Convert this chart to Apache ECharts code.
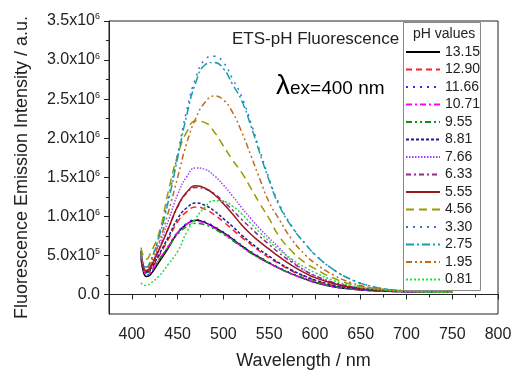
<!DOCTYPE html>
<html>
<head>
<meta charset="utf-8">
<script src="https://cdn.jsdelivr.net/npm/echarts@6/dist/echarts.min.js"></script>
<style>html,body{margin:0;padding:0;background:#fff}#c{width:513px;height:370px}</style>
</head>
<body>
<div id="c"></div>
<script>
// Wavelength (nm)
var wavelengths = [410, 413, 416, 420, 430, 440, 450, 460, 470, 480, 490, 500, 510, 520, 530, 540, 550, 560, 575, 590, 600, 620, 640, 660, 680, 700, 725, 750];
// Intensities in units of 1e5 a.u.
var ph1315 = [4.6, 2.7, 2.3, 2.5, 4.2, 6.0, 7.9, 9.0, 9.5, 9.2, 8.6, 7.9, 7.1, 6.2, 5.4, 4.7, 4.0, 3.4, 2.6, 1.95, 1.55, 1.0, 0.7, 0.5, 0.4, 0.35, 0.3, 0.28];
var ph1290 = [5.3, 3.2, 2.8, 3.1, 5.0, 7.1, 9.3, 10.6, 11.2, 10.9, 10.2, 9.3, 8.3, 7.3, 6.4, 5.5, 4.7, 4.0, 3.0, 2.25, 1.8, 1.15, 0.8, 0.56, 0.45, 0.38, 0.32, 0.29];
var ph1166 = [4.9, 2.9, 2.5, 2.7, 4.4, 6.2, 8.0, 9.1, 9.6, 9.3, 8.7, 8.0, 7.2, 6.3, 5.5, 4.8, 4.1, 3.5, 2.7, 2.0, 1.6, 1.05, 0.72, 0.52, 0.42, 0.36, 0.31, 0.28];
var ph1071 = [5.0, 3.0, 2.6, 2.8, 4.5, 6.2, 7.9, 9.0, 9.4, 9.1, 8.5, 7.8, 7.0, 6.1, 5.3, 4.6, 4.0, 3.4, 2.6, 1.95, 1.55, 1.0, 0.7, 0.5, 0.4, 0.35, 0.3, 0.28];
var ph955 = [5.2, 3.2, 2.8, 3.0, 4.5, 6.1, 7.7, 8.7, 9.1, 8.9, 8.4, 7.7, 6.9, 6.1, 5.3, 4.6, 4.0, 3.4, 2.6, 2.0, 1.6, 1.05, 0.72, 0.52, 0.42, 0.36, 0.31, 0.28];
var ph881 = [5.4, 3.3, 2.9, 3.2, 5.2, 7.4, 9.7, 11.1, 11.7, 11.4, 10.7, 9.7, 8.7, 7.6, 6.6, 5.7, 4.9, 4.1, 3.1, 2.3, 1.85, 1.2, 0.82, 0.58, 0.46, 0.38, 0.32, 0.29];
var ph766 = [5.6, 3.5, 3.1, 3.6, 6.4, 9.5, 12.8, 15.1, 16.2, 16.0, 15.2, 14.0, 12.6, 11.1, 9.7, 8.4, 7.2, 6.1, 4.3, 3.0, 2.4, 1.5, 1.0, 0.7, 0.52, 0.42, 0.34, 0.3];
var ph633 = [5.6, 3.5, 3.1, 3.5, 5.9, 8.5, 11.2, 13.0, 13.7, 13.5, 12.9, 11.9, 10.8, 9.6, 8.5, 7.4, 6.4, 5.4, 4.1, 3.0, 2.4, 1.55, 1.0, 0.7, 0.52, 0.42, 0.34, 0.3];
var ph555 = [5.5, 3.4, 3.0, 3.4, 5.8, 8.5, 11.3, 13.1, 13.9, 13.6, 12.8, 11.6, 10.3, 8.9, 7.7, 6.7, 5.8, 4.9, 3.7, 2.7, 2.15, 1.4, 0.92, 0.63, 0.5, 0.4, 0.33, 0.29];
var ph456 = [6.0, 4.8, 4.5, 5.2, 8.0, 13.3, 17.8, 20.8, 22.2, 22.0, 20.8, 19.0, 17.2, 15.6, 13.6, 11.6, 9.7, 7.6, 5.5, 4.0, 3.3, 2.1, 1.3, 0.85, 0.6, 0.45, 0.36, 0.3];
var ph330 = [5.4, 3.7, 3.4, 4.1, 7.6, 12.4, 18.0, 23.6, 27.8, 30.1, 30.5, 29.7, 27.6, 25.3, 22.0, 18.3, 14.8, 11.8, 8.7, 6.4, 5.1, 3.2, 1.9, 1.1, 0.65, 0.45, 0.34, 0.3];
var ph275 = [5.5, 3.8, 3.5, 4.2, 7.5, 12.0, 17.5, 23.0, 27.2, 29.4, 29.7, 28.9, 26.9, 24.8, 21.6, 18.0, 14.6, 11.6, 8.6, 6.4, 5.1, 3.2, 1.9, 1.1, 0.65, 0.45, 0.33, 0.3];
var ph195 = [5.3, 3.6, 3.3, 3.9, 6.8, 10.6, 15.0, 19.4, 22.6, 24.6, 25.4, 24.9, 23.3, 20.8, 17.8, 14.7, 11.8, 9.8, 7.0, 5.0, 4.0, 2.5, 1.5, 0.9, 0.58, 0.42, 0.32, 0.29];
var ph081 = [1.5, 1.2, 1.15, 1.4, 2.4, 3.9, 5.5, 8.0, 9.8, 11.2, 12.0, 11.9, 11.3, 10.3, 9.1, 7.9, 6.8, 5.8, 4.5, 3.4, 2.8, 1.8, 1.15, 0.75, 0.52, 0.4, 0.32, 0.28];

var seriesNames = ['13.15', '12.90', '11.66', '10.71', '9.55', '8.81', '7.66', '6.33', '5.55', '4.56', '3.30', '2.75', '1.95', '0.81'];
var seriesData = [ph1315, ph1290, ph1166, ph1071, ph955, ph881, ph766, ph633, ph555, ph456, ph330, ph275, ph195, ph081];

var xTickValues = [400, 450, 500, 550, 600, 650, 700, 750, 800];
var xMinorTicks = [425, 475, 525, 575, 625, 675, 725, 775];
var yTickValues = [0, 5, 10, 15, 20, 25, 30, 35];
var yTickLabels = ['0.0', '5.0x10{s|5}', '1.0x10{s|6}', '1.5x10{s|6}', '2.0x10{s|6}', '2.5x10{s|6}', '3.0x10{s|6}', '3.5x10{s|6}'];
var yMinorTicks = [2.5, 7.5, 12.5, 17.5, 22.5, 27.5, 32.5];

var styles = [
  {color: '#000000', type: 'solid'},
  {color: '#ff2020', type: [6, 4]},
  {color: '#2a2aff', type: [2, 5]},
  {color: '#ff00ff', type: [6, 3, 2, 3]},
  {color: '#129012', type: [6, 3, 2, 3, 2, 3]},
  {color: '#1c1c90', type: [3, 2]},
  {color: '#a040ff', type: [1.5, 1.5]},
  {color: '#902890', type: [5, 3, 2, 3]},
  {color: '#9b1818', type: 'solid'},
  {color: '#9a9a00', type: [8, 5]},
  {color: '#3a70d0', type: [2, 5]},
  {color: '#12a0a8', type: [8, 3, 2, 3]},
  {color: '#c06a20', type: [6, 3, 2, 3, 2, 3]},
  {color: '#22dd44', type: [2, 2]}
];

var FONT = 'Liberation Sans';
var series = seriesNames.map(function (n, i) {
  return {
    name: n, type: 'line', smooth: true, symbol: 'none', showSymbol: false,
    data: wavelengths.map(function (w, j) { return [w, seriesData[i][j]]; }),
    lineStyle: {color: styles[i].color, width: 1.5, type: styles[i].type},
    itemStyle: {color: styles[i].color}
  };
});

var chart = echarts.init(document.getElementById('c'));
chart.setOption({
  animation: false,
  backgroundColor: '#fff',
  grid: {left: 109, right: 15, top: 21, bottom: 56, show: true, borderColor: '#222', borderWidth: 1, backgroundColor: 'transparent', outerBoundsMode: 'none', containLabel: false},
  xAxis: [{
    type: 'value', min: 375, max: 800, interval: 25,
    name: 'Wavelength / nm', nameLocation: 'middle', nameGap: 38,
    nameTextStyle: {fontFamily: FONT, fontSize: 18, color: '#222'},
    axisLine: {lineStyle: {color: '#222'}},
    axisTick: {length: 5, customValues: xTickValues, lineStyle: {color: '#222'}},
    axisLabel: {customValues: xTickValues, fontFamily: FONT, fontSize: 16, color: '#222', margin: 13},
    splitLine: {show: false}
  }, {
    type: 'value', min: 375, max: 800, interval: 25, position: 'bottom',
    axisLine: {show: false},
    axisTick: {length: 3, customValues: xMinorTicks, lineStyle: {color: '#222'}},
    axisLabel: {show: false}, splitLine: {show: false}
  }],
  yAxis: [{
    type: 'value', min: -2.5, max: 35, interval: 2.5,
    name: 'Fluorescence Emission Intensity / a.u.', nameLocation: 'middle', nameGap: 78,
    nameTextStyle: {fontFamily: FONT, fontSize: 18, color: '#222'},
    axisLine: {lineStyle: {color: '#222'}},
    axisTick: {length: 5, customValues: yTickValues, lineStyle: {color: '#222'}},
    axisLabel: {
      customValues: yTickValues, fontFamily: FONT, fontSize: 16, color: '#222', margin: 9,
      formatter: function (v) { var i = yTickValues.indexOf(v); return i >= 0 ? yTickLabels[i] : ''; },
      rich: {s: {fontFamily: FONT, fontSize: 9, color: '#222', verticalAlign: 'top', padding: [0, 0, 8, 0]}}
    },
    splitLine: {show: false}
  }, {
    type: 'value', min: -2.5, max: 35, interval: 2.5, position: 'left',
    axisLine: {show: false},
    axisTick: {length: 3, customValues: yMinorTicks, lineStyle: {color: '#222'}},
    axisLabel: {show: false}, splitLine: {show: false}
  }],
  legend: {
    data: seriesNames, orient: 'vertical', left: 405, top: 45, padding: 0,
    itemWidth: 34, itemHeight: 14, itemGap: 3.5, selectedMode: false,
    itemStyle: {opacity: 0},
    textStyle: {fontFamily: FONT, fontSize: 14, color: '#222', lineHeight: 14}
  },
  graphic: [
    {type: 'rect', shape: {x: 403.5, y: 22.5, width: 77, height: 268}, style: {fill: 'transparent', stroke: '#888', lineWidth: 1}, z: 5},
    {type: 'text', left: 413, top: 27, style: {text: 'pH values', font: '14px "Liberation Sans"', fill: '#222'}, z: 6},
    {type: 'text', left: 232, top: 31, style: {text: 'ETS-pH Fluorescence', font: '17px "Liberation Sans"', fill: '#222'}, z: 6},
    {type: 'text', left: 276, top: 72, style: {
      text: '{l|λ}{e|ex=400 nm}',
      rich: {l: {fontFamily: FONT, fontSize: 28, color: '#222'}, e: {fontFamily: FONT, fontSize: 19, color: '#222', verticalAlign: 'bottom', padding: [0, 0, 2, 0]}}
    }, z: 6}
  ],
  series: series
});
</script>
</body>
</html>
